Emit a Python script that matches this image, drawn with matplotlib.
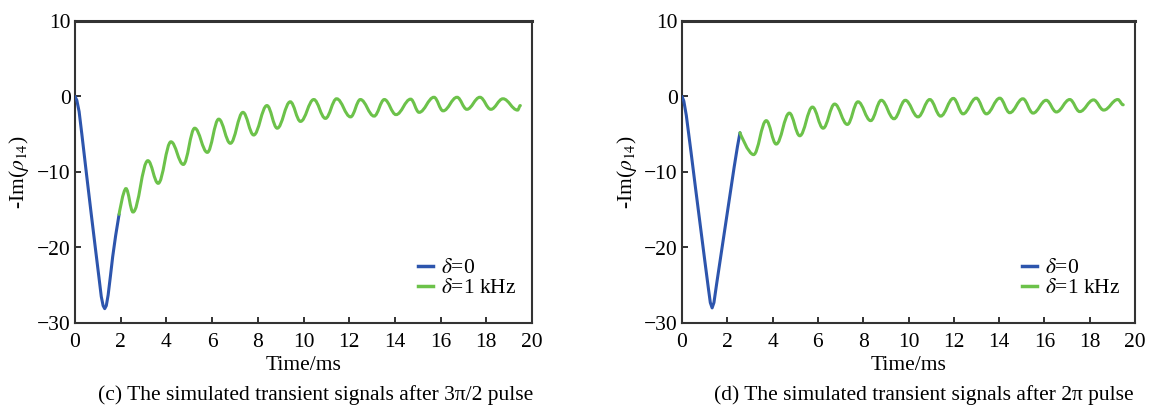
import matplotlib
matplotlib.use('Agg')
import matplotlib.pyplot as plt
from matplotlib.path import Path
from matplotlib.patches import PathPatch
from matplotlib.lines import Line2D

plt.rcParams['font.family'] = ['Liberation Serif', 'DejaVu Serif']
plt.rcParams['mathtext.fontset'] = 'stix'
plt.rcParams['axes.unicode_minus'] = True

# (c) 3pi/2 脉冲
c_blue_t = [0.00, 0.08, 0.18, 0.30, 0.50, 0.70, 0.90, 1.05, 1.15, 1.23, 1.30, 1.37, 1.45, 1.55, 1.65, 1.78, 1.93]
c_blue_v = [0.0, -0.5, -2.0, -5.0, -10.2, -15.3, -20.3, -24.0, -26.5, -27.7, -28.1, -27.7, -26.3, -23.8, -21.2, -18.4, -15.6]
c_green_t = [1.93, 2.23, 2.54, 3.19, 3.64, 4.20, 4.74, 5.24, 5.79, 6.29, 6.80, 7.35, 7.82, 8.40, 8.85,
             9.42, 9.87, 10.45, 10.96, 11.45, 12.06, 12.49, 13.09, 13.54, 14.05, 14.69, 15.06, 15.71,
             16.11, 16.72, 17.15, 17.72, 18.20, 18.73, 19.37, 19.49]
c_green_v = [-15.6, -12.2, -15.3, -8.5, -11.5, -6.0, -9.0, -4.2, -7.4, -3.0, -6.2, -2.1, -5.1, -1.2, -4.2,
             -0.7, -3.3, -0.4, -2.9, -0.3, -2.7, -0.4, -2.6, -0.4, -2.4, -0.35, -2.1, -0.1,
             -1.9, -0.1, -1.7, -0.1, -1.7, -0.3, -1.8, -1.2]

# (d) 2pi 脉冲
d_blue_t = [0.00, 0.08, 0.19, 0.40, 0.60, 0.80, 1.00, 1.16, 1.25, 1.33, 1.41, 1.53, 1.70, 1.90, 2.10, 2.30, 2.45, 2.56]
d_blue_v = [0.0, -0.6, -2.5, -7.4, -12.2, -16.9, -21.6, -25.3, -27.3, -28.0, -27.3, -24.8, -21.4, -17.4, -13.4, -9.4, -6.6, -4.8]
d_green_t = [2.56, 3.16, 3.72, 4.16, 4.74, 5.20, 5.76, 6.23, 6.74, 7.30, 7.77, 8.33, 8.80, 9.36, 9.86,
             10.42, 10.94, 11.42, 11.98, 12.41, 12.99, 13.44, 14.03, 14.47, 15.05, 15.50, 16.08, 16.53,
             17.12, 17.56, 18.17, 18.62, 19.24, 19.48]
d_green_v = [-4.8, -7.7, -3.2, -6.3, -2.2, -5.2, -1.4, -4.2, -1.0, -3.7, -0.7, -3.2, -0.5, -2.95, -0.5,
             -2.7, -0.4, -2.6, -0.25, -2.3, -0.22, -2.3, -0.22, -2.15, -0.3, -2.2, -0.5, -2.05,
             -0.4, -2.0, -0.45, -1.8, -0.4, -1.1]

x_ticks = list(range(0, 21, 2))
y_ticks = [-30, -20, -10, 0, 10]
labels = ['$\\delta$=0', '$\\delta$=1 kHz']
captions = ['(c) The simulated transient signals after 3\u03c0/2 pulse',
            '(d) The simulated transient signals after 2\u03c0 pulse']

blue = '#2d55ad'
green = '#6cc24a'
fs = 15.5


def wave_path(t, v, k=0.38):
    # 极值点之间用水平切线的三次贝塞尔连接
    verts = [(t[0], v[0])]
    codes = [Path.MOVETO]
    for i in range(1, len(t)):
        dt = t[i] - t[i - 1]
        c1 = (t[i - 1] + k * dt, v[i - 1]) if i > 1 else (t[0], v[0])
        c2 = (t[i] - k * dt, v[i])
        verts += [c1, c2, (t[i], v[i])]
        codes += [Path.CURVE4] * 3
    return Path(verts, codes)


fig = plt.figure(figsize=(11.52, 4.11), dpi=100)
axes = [fig.add_axes([75 / 1152, 88 / 411, 457 / 1152, 302 / 411]),
        fig.add_axes([682 / 1152, 88 / 411, 453 / 1152, 302 / 411])]
data = [(c_blue_t, c_blue_v, c_green_t, c_green_v), (d_blue_t, d_blue_v, d_green_t, d_green_v)]
cap_x = [316 / 1152, 924 / 1152]

for ax, (bt, bv, gt, gv), cap, cx in zip(axes, data, captions, cap_x):
    ax.plot(bt, bv, color=blue, lw=2.2, solid_capstyle='round', zorder=3)
    ax.add_patch(PathPatch(wave_path(gt, gv), facecolor='none', edgecolor=green, lw=2.2,
                           capstyle='round', zorder=3))
    ax.set_xlim(0, 20)
    ax.set_ylim(-30, 10)
    ax.set_xticks(x_ticks)
    ax.set_yticks(y_ticks)
    ax.tick_params(direction='in', length=4, width=1.3, labelsize=fs, color='#222222')
    ax.tick_params(axis='x', pad=7)
    ax.tick_params(axis='y', pad=3)
    for s in ax.spines.values():
        s.set_linewidth(1.5)
        s.set_color('#333333')
    ax.spines['top'].set_linewidth(2.2)
    ax.set_xlabel('Time/ms', fontsize=fs, labelpad=3)
    ax.set_ylabel('-Im($\\rho_{14}$)', fontsize=fs)
    ax.yaxis.set_label_coords(-0.096, 0.5)
    handles = [Line2D([], [], color=blue, lw=2.5), Line2D([], [], color=green, lw=2.5)]
    ax.legend(handles, labels, loc='upper left', bbox_to_anchor=(0.75, 0.215), frameon=False,
              fontsize=fs, handlelength=0.72, handletextpad=0.35, labelspacing=0.0,
              borderpad=0, borderaxespad=0)
    fig.text(cx, 1 - 395 / 411, cap, ha='center', va='center', fontsize=fs)

fig.savefig('out.png', dpi=100)
